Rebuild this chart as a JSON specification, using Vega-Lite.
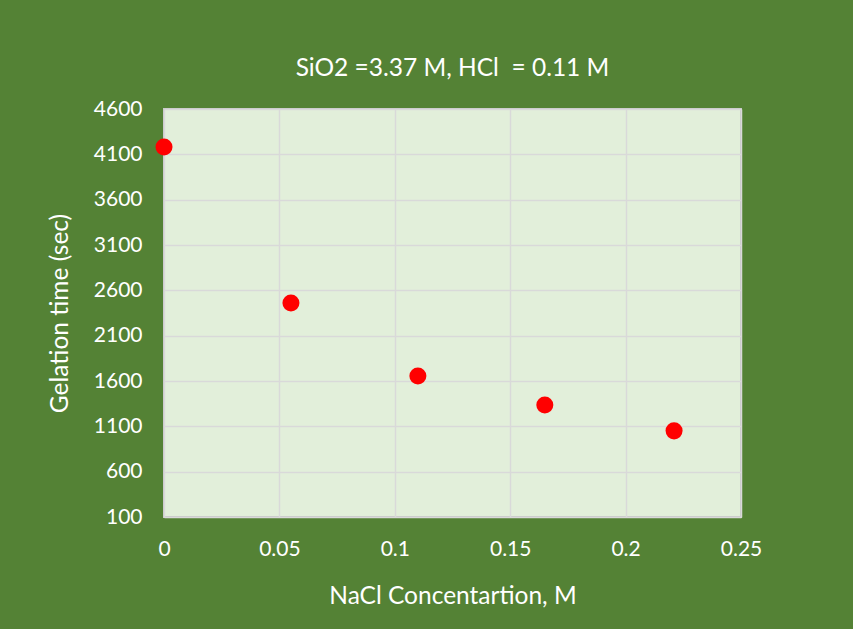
{
  "$schema": "https://vega.github.io/schema/vega-lite/v6.json",
  "width": 577,
  "height": 408,
  "autosize": {"type": "none"},
  "padding": {"left": 164, "top": 109, "right": 112, "bottom": 112},
  "background": "#548235",
  "config": {
    "font": "Lato",
    "view": {"fill": "#E2EFDA", "stroke": "#C9C9C9", "strokeWidth": 2},
    "axis": {
      "labelColor": "#FFFFFF",
      "titleColor": "#FFFFFF",
      "labelFont": "Lato",
      "titleFont": "Lato",
      "labelFontSize": 21,
      "titleFontSize": 24.5,
      "titleFontWeight": "normal",
      "ticks": false,
      "domain": false,
      "gridColor": "#D9D9D9",
      "gridWidth": 1.5
    }
  },
  "title": {
    "text": "SiO2 =3.37 M, HCl\u00a0 = 0.11 M",
    "color": "#FFFFFF",
    "font": "Lato",
    "fontSize": 24.5,
    "fontWeight": "normal",
    "offset": 17
  },
  "data": {
    "values": [
      {"nacl": 0, "time": 4180},
      {"nacl": 0.055, "time": 2460},
      {"nacl": 0.11, "time": 1655},
      {"nacl": 0.165, "time": 1336},
      {"nacl": 0.221, "time": 1050}
    ]
  },
  "mark": {"type": "point", "filled": true, "color": "#FF0000", "opacity": 1, "size": 290},
  "encoding": {
    "x": {
      "field": "nacl",
      "type": "quantitative",
      "title": "NaCl Concentartion, M",
      "scale": {"domain": [0, 0.25], "nice": false, "zero": false},
      "axis": {"values": [0, 0.05, 0.1, 0.15, 0.2, 0.25], "format": "~g", "labelPadding": 21, "titlePadding": 25, "labelFlush": false}
    },
    "y": {
      "field": "time",
      "type": "quantitative",
      "title": "Gelation time (sec)",
      "scale": {"domain": [100, 4600], "nice": false, "zero": false},
      "axis": {"values": [100, 600, 1100, 1600, 2100, 2600, 3100, 3600, 4100, 4600], "format": "d", "labelPadding": 22, "titlePadding": 21, "labelFlush": false}
    }
  }
}
